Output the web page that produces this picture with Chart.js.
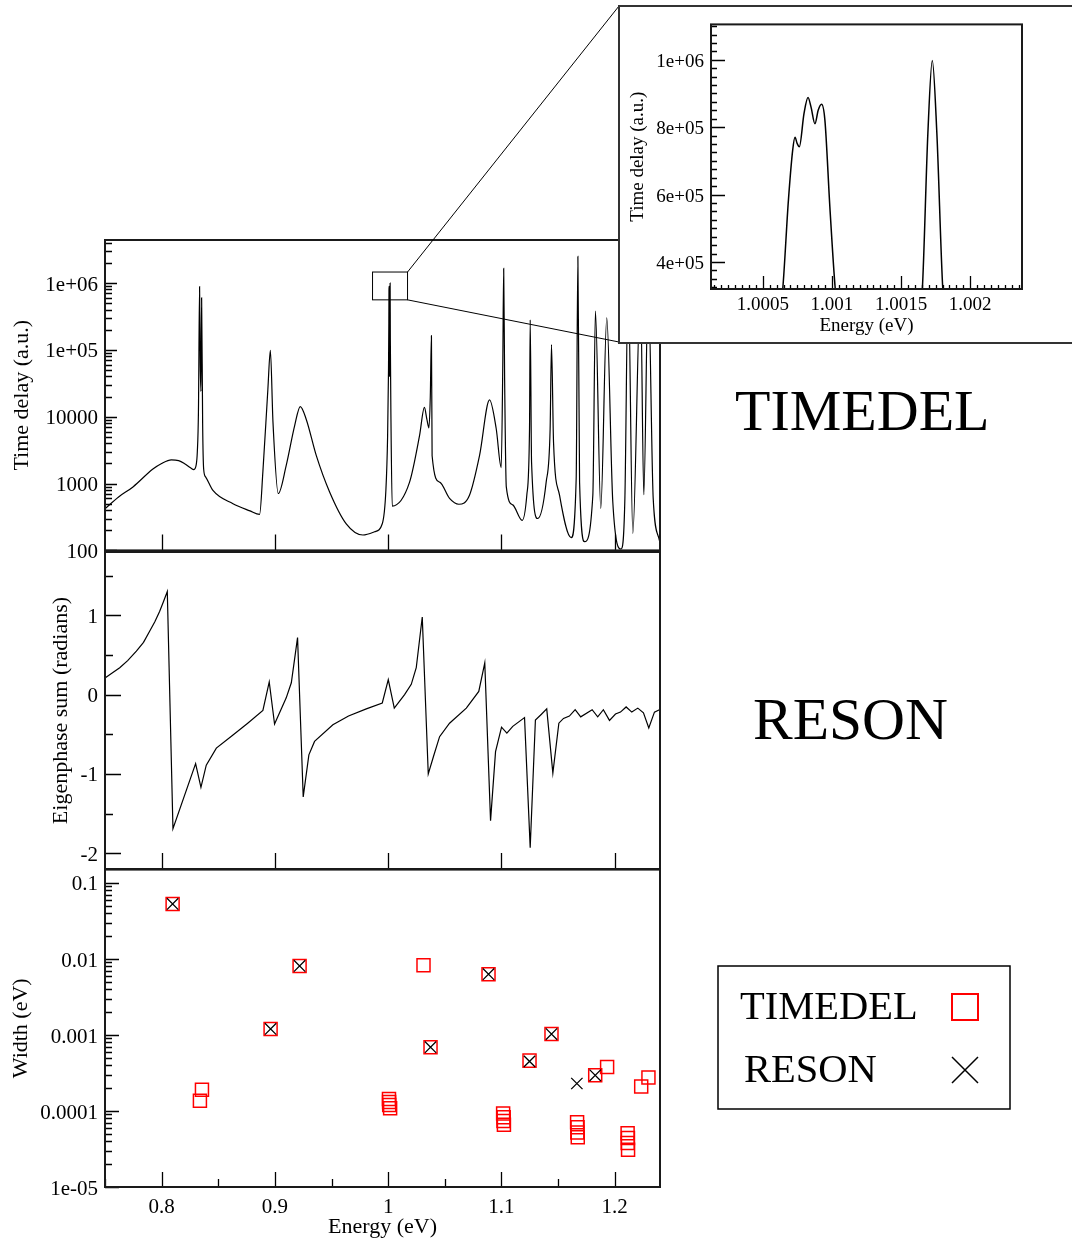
<!DOCTYPE html>
<html>
<head>
<meta charset="utf-8">
<script src="https://cdn.jsdelivr.net/npm/chart.js@4.4.0/dist/chart.umd.min.js"></script>
<style>
  html, body { margin: 0; padding: 0; background: #fff; }
  body { width: 1072px; height: 1242px; position: relative; overflow: hidden; font-family: 'Liberation Serif', serif; }
  canvas, .frame, .tag { position: absolute; }
  .frame { left: 618px; top: 5px; width: 470px; height: 339px; box-sizing: border-box; border: 2px solid #333; background: #fff; }
  .tag { font-size: 58px; line-height: 1; color: #000; white-space: nowrap; }
</style>
</head>
<body>
<canvas id="delayChart" width="1072" height="570" style="left:0;top:0"></canvas>
<canvas id="phaseChart" width="680" height="360" style="left:0;top:530px"></canvas>
<canvas id="widthChart" width="1072" height="392" style="left:0;top:850px"></canvas>
<div class="frame"></div>
<canvas id="insetChart" width="453" height="336" style="left:619px;top:6px"></canvas>
<div class="tag" style="left:735px;top:382px">TIMEDEL</div>
<div class="tag" style="left:753px;top:690px;font-size:59.5px">RESON</div>
<script>
// --- tick labels ---
const energyTicks = [0.8, 0.9, 1.0, 1.1, 1.2];
const energyTickLabels = ["0.8", "0.9", "1", "1.1", "1.2"];
const delayTicks = [100, 1000, 10000, 1e5, 1e6];
const delayTickLabels = ["100", "1000", "10000", "1e+05", "1e+06"];
const phaseTicks = [-2, -1, 0, 1];
const phaseTickLabels = ["-2", "-1", "0", "1"];
const widthTicks = [1e-5, 1e-4, 1e-3, 1e-2, 0.1];
const widthTickLabels = ["1e-05", "0.0001", "0.001", "0.01", "0.1"];
const insetEnergyTicks = [1.0005, 1.001, 1.0015, 1.002];
const insetEnergyTickLabels = ["1.0005", "1.001", "1.0015", "1.002"];
const insetDelayTicks = [4e5, 6e5, 8e5, 1e6];
const insetDelayTickLabels = ["4e+05", "6e+05", "8e+05", "1e+06"];

// --- time delay (top panel) ---
const delayEnergy = [0.75, 0.762, 0.7747, 0.7923, 0.8, 0.8086, 0.815, 0.8203, 0.8255, 0.8285, 0.8305, 0.8315, 0.8325,
  0.8335, 0.8341, 0.8347, 0.8353, 0.8362, 0.8371, 0.8388, 0.8453, 0.863, 0.878, 0.8865, 0.8894, 0.8938, 0.896, 0.8983,
  0.903, 0.91, 0.9174, 0.9224, 0.9277, 0.9365, 0.9483, 0.963, 0.9777, 0.988, 0.9948, 0.998, 0.9995, 1.0003, 1.0006,
  1.00072, 1.00083, 1.00093, 1.00105, 1.0013, 1.0016, 1.00173, 1.0019, 1.0025, 1.0036, 1.0189, 1.0277, 1.032, 1.0342,
  1.036, 1.0372, 1.0382, 1.0388, 1.0454, 1.0542, 1.0624, 1.0718, 1.0807, 1.0895, 1.0954, 1.0998, 1.1012, 1.102, 1.1028,
  1.1043, 1.11, 1.1183, 1.1224, 1.1248, 1.1254, 1.1266, 1.132, 1.1395, 1.143, 1.1442, 1.146, 1.1513, 1.1616, 1.166,
  1.1675, 1.169, 1.1734, 1.1807, 1.183, 1.1877, 1.193, 1.1983, 1.2057, 1.209, 1.2119, 1.216, 1.2228, 1.2257, 1.2296,
  1.234, 1.2395];
const delayValue = [420, 630, 890, 1650, 2000, 2265, 2200, 1980, 1720, 1620, 1900, 2960, 12000,
  880000, 60000, 24000, 600000, 8000, 1650, 1260, 790, 500, 390, 345, 1510, 25700, 98000, 8300,
  710, 1870, 7300, 14200, 9100, 2640, 750, 250, 170, 190, 250, 800, 5000, 50000, 250000,
  770000, 890000, 870000, 200000, 40000, 200000, 1000000, 150000, 8000, 460, 1050, 5200, 13800, 9100,
  6800, 20000, 163000, 2600, 1050, 600, 490, 670, 2640, 17800, 6600, 1730, 60000, 1650000, 40000,
  890, 480, 282, 670, 6600, 280000, 2090, 300, 1050, 6600, 120000, 4150, 670, 155, 1180,
  2500000, 1050, 135, 670, 380000, 425, 300000, 540, 105, 600, 1200000, 180, 800000, 680, 1000000,
  600, 140];

// --- eigenphase sum (middle panel) ---
const phaseEnergy = [0.75, 0.756, 0.763, 0.770, 0.7777, 0.784, 0.7894, 0.794, 0.7982, 0.8015, 0.805, 0.81, 0.83,
  0.8347, 0.8394, 0.8483, 0.863, 0.876,
  0.8894, 0.895, 0.8997, 0.91, 0.9145, 0.92, 0.925, 0.93, 0.935, 0.9512, 0.965, 0.9807, 0.9948, 1.0001, 1.0054,
  1.0145, 1.0204, 1.0248, 1.0301, 1.0354, 1.04, 1.0454, 1.0542, 1.069, 1.08, 1.0853, 1.0904, 1.0948, 1.1001, 1.1048,
  1.11, 1.1204, 1.1254, 1.13, 1.1351, 1.14, 1.1454, 1.1507, 1.1548, 1.16, 1.1651, 1.17, 1.1801, 1.185, 1.19, 1.1954,
  1.2007, 1.2051, 1.2101, 1.2151, 1.2204, 1.2254, 1.2301, 1.2351, 1.2395];
const phaseValue = [0.21, 0.27, 0.34, 0.43, 0.55, 0.66, 0.8, 0.92, 1.05, 1.17, 1.3, -1.69, -0.87,
  -1.17, -0.89, -0.675, -0.51, -0.36,
  -0.2, 0.16, -0.37, -0.04, 0.15, 0.72, -1.29, -0.76, -0.59, -0.38, -0.27, -0.18, -0.105, 0.19, -0.17,
  0.0, 0.13, 0.34, 0.98, -1.0, -0.78, -0.53, -0.36, -0.17, 0.04, 0.4, -1.59, -0.72, -0.41, -0.485,
  -0.4, -0.29, -1.93, -0.32, -0.25, -0.18, -0.99, -0.36, -0.3, -0.27, -0.19, -0.28, -0.19, -0.28, -0.19, -0.325,
  -0.245, -0.22, -0.155, -0.22, -0.17, -0.23, -0.42, -0.22, -0.19];

// --- resonance widths (bottom panel) ---
const timedelEnergy = [0.8097, 0.8356, 0.8338, 0.8962, 0.9218, 1.00072, 1.00083, 1.00092, 1.00173, 1.0312, 1.0374,
  1.0886, 1.1015, 1.102, 1.1018, 1.1022, 1.1248, 1.1442, 1.1668, 1.1672, 1.1670, 1.1674, 1.1828, 1.1933,
  1.2114, 1.2117, 1.2115, 1.2118, 1.2234, 1.2298];
const timedelWidth = [0.053, 1.9e-4, 1.36e-4, 1.2e-3, 8.1e-3, 1.44e-4, 1.31e-4, 1.2e-4, 1.09e-4, 8.3e-3, 6.9e-4,
  6.3e-3, 9.3e-5, 8.3e-5, 7.4e-5, 6.6e-5, 4.6e-4, 1.03e-3, 7.1e-5, 6.1e-5, 5.2e-5, 4.5e-5, 2.95e-4, 3.8e-4,
  5.1e-5, 4.4e-5, 3.8e-5, 3.1e-5, 2.1e-4, 2.75e-4];
const resonEnergy = [0.8097, 0.8962, 0.9218, 1.0374, 1.0886, 1.1248, 1.1442, 1.1666, 1.1828];
const resonWidth = [0.053, 1.2e-3, 8.1e-3, 6.9e-4, 6.3e-3, 4.5e-4, 1.03e-3, 2.3e-4, 2.95e-4];

// --- zoomed time delay (inset) ---
const insetEnergy = [1.00058, 1.000644, 1.000685, 1.000716, 1.000733, 1.000748, 1.000764, 1.000798, 1.000827,
  1.000848, 1.000877, 1.000901, 1.000925, 1.000949, 1.000985, 1.001024, 1.00108, 1.0013, 1.0016, 1.001654,
  1.001694, 1.001726, 1.001759, 1.001802, 1.00186, 1.0025];
const insetValue = [120000, 320000, 583000, 732000, 770000, 752000, 742000, 841000, 888000,
  861000, 810000, 851000, 868000, 821000, 563000, 320000, 120000, 40000, 150000, 320000,
  782000, 998000, 782000, 320000, 120000, 8000];

// region of the top panel that the inset enlarges
const zoomBox = { x: [0.9862, 1.0171], y: [5.6e5, 1.46e6] };

const pts = (xs, ys) => xs.map((x, i) => ({ x: x, y: ys[i] }));

Chart.defaults.font.family = "'Liberation Serif', 'Times New Roman', serif";
Chart.defaults.color = "#000";
Chart.defaults.animation = false;

function logMinors(min, max) {
  const out = [];
  for (let e = Math.floor(Math.log10(min)); e <= Math.ceil(Math.log10(max)); e++) {
    for (let m = 2; m <= 9; m++) {
      const v = m * Math.pow(10, e);
      if (v > min && v < max) out.push(v);
    }
  }
  return out;
}

function stepMinors(min, max, step, majors) {
  const out = [];
  for (let k = Math.ceil(min / step - 1e-9); k * step <= max + 1e-12; k++) {
    const v = k * step;
    if (!majors.some((m) => Math.abs(m - v) < step / 10)) out.push(v);
  }
  return out;
}

// inward tick marks + box round the plot area (xmgrace style)
function frameTicks(cfg) {
  return {
    id: "frameTicks",
    afterDatasetsDraw(chart) {
      const { ctx, chartArea: a } = chart;
      const xs = chart.scales.x, ys = chart.scales.y;
      ctx.save();
      ctx.strokeStyle = "#000";
      ctx.lineWidth = 1.3;
      ctx.beginPath();
      const xt = (vals, len) => vals.forEach((v) => {
        const p = Math.round(xs.getPixelForValue(v)) + 0.5;
        ctx.moveTo(p, a.bottom); ctx.lineTo(p, a.bottom - len);
      });
      const yt = (vals, len) => vals.forEach((v) => {
        const p = Math.round(ys.getPixelForValue(v)) + 0.5;
        ctx.moveTo(a.left, p); ctx.lineTo(a.left + len, p);
      });
      xt(cfg.xMajor, cfg.xLen[0]);
      xt(cfg.xMinor || [], cfg.xLen[1]);
      yt(cfg.yMajor, cfg.yLen[0]);
      yt(cfg.yMinor || [], cfg.yLen[1]);
      ctx.stroke();
      ctx.lineWidth = 2;
      ctx.strokeStyle = "#1a1a1a";
      ctx.strokeRect(a.left, a.top, a.right - a.left, a.bottom - a.top);
      ctx.restore();
    },
  };
}

function energyAxis(show, min, max, ticks, labels, opt) {
  opt = opt || {};
  const axis = {
    type: "linear", min: min, max: max, display: show,
    grid: { display: false, drawTicks: false }, border: { display: false },
    afterBuildTicks: (s) => { s.ticks = ticks.map((v) => ({ value: v })); },
    ticks: { autoSkip: false, maxRotation: 0, padding: opt.pad || 8,
      font: { size: opt.size || 21 }, callback: (v, i) => labels[i] },
    title: { display: show, text: "Energy (eV)", font: { size: opt.titleSize || 22 },
      padding: { top: 0, bottom: opt.titlePad || 2 } },
  };
  if (show) axis.afterFit = (s) => { s.height = opt.height || 55; };
  return axis;
}

function valueAxis(type, min, max, ticks, labels, title, titlePad, opt) {
  opt = opt || {};
  return {
    type: type, min: min, max: max,
    grid: { display: false, drawTicks: false }, border: { display: false },
    afterBuildTicks: (s) => { s.ticks = ticks.map((v) => ({ value: v })); },
    afterFit: (s) => { s.width = opt.width || 105; },
    ticks: { autoSkip: false, padding: 7, labelOffset: 2, font: { size: opt.size || 21 },
      callback: (v, i) => labels[i] },
    title: { display: true, text: title, font: { size: opt.titleSize || 22 }, padding: { top: titlePad, bottom: 0 } },
  };
}

const quiet = { legend: { display: false }, tooltip: { enabled: false } };

// top panel: time delay
const zoomLines = {
  id: "zoomLines",
  afterDraw(chart) {
    const { ctx } = chart;
    const xs = chart.scales.x, ys = chart.scales.y;
    const x0 = xs.getPixelForValue(zoomBox.x[0]), x1 = xs.getPixelForValue(zoomBox.x[1]);
    const y0 = ys.getPixelForValue(zoomBox.y[1]), y1 = ys.getPixelForValue(zoomBox.y[0]);
    ctx.save();
    ctx.strokeStyle = "#000";
    ctx.lineWidth = 1;
    ctx.strokeRect(x0, y0, x1 - x0, y1 - y0);
    ctx.beginPath();
    ctx.moveTo(x1, y0); ctx.lineTo(619, 6);
    ctx.moveTo(x1, y1); ctx.lineTo(619, 342);
    ctx.stroke();
    ctx.restore();
  },
};

new Chart(document.getElementById("delayChart"), {
  type: "line",
  data: { datasets: [{ label: "Time delay", data: pts(delayEnergy, delayValue), borderColor: "#000",
    borderWidth: 1.2, pointRadius: 0, cubicInterpolationMode: "monotone" }] },
  options: {
    responsive: false, events: [],
    layout: { padding: { top: 240, right: 412, bottom: 18, left: 0 } },
    scales: {
      x: energyAxis(false, 0.75, 1.24, energyTicks, energyTickLabels),
      y: valueAxis("logarithmic", 100, 4.4e6, delayTicks, delayTickLabels, "Time delay (a.u.)", 9),
    },
    plugins: quiet,
  },
  plugins: [frameTicks({ xMajor: energyTicks, xLen: [16, 0], yMajor: delayTicks,
    yMinor: logMinors(100, 4.4e6), yLen: [12, 7] }), zoomLines],
});

// middle panel: eigenphase sum
new Chart(document.getElementById("phaseChart"), {
  type: "line",
  data: { datasets: [{ label: "Eigenphase sum", data: pts(phaseEnergy, phaseValue), borderColor: "#000",
    borderWidth: 1.2, pointRadius: 0, tension: 0 }] },
  options: {
    responsive: false, events: [],
    layout: { padding: { top: 22, right: 20, bottom: 21, left: 0 } },
    scales: {
      x: energyAxis(false, 0.75, 1.24, energyTicks, energyTickLabels),
      y: valueAxis("linear", -2.2, 1.8, phaseTicks, phaseTickLabels, "Eigenphase sum (radians)", 48),
    },
    plugins: quiet,
  },
  plugins: [frameTicks({ xMajor: energyTicks, xLen: [16, 0], yMajor: phaseTicks,
    yMinor: stepMinors(-2.2, 1.8, 0.5, phaseTicks), yLen: [16, 8] })],
});

// bottom panel: widths, with a boxed legend to the right
const boxLegend = {
  id: "boxLegend",
  afterDraw(chart) {
    const { ctx } = chart;
    const L = 718, T = 116, W = 292, H = 143;
    ctx.save();
    ctx.fillStyle = "#fff";
    ctx.fillRect(L, T, W, H);
    ctx.strokeStyle = "#000";
    ctx.lineWidth = 1.5;
    ctx.strokeRect(L, T, W, H);
    ctx.font = "40.5px 'Liberation Serif', serif";
    ctx.textBaseline = "middle";
    chart.data.datasets.forEach((ds, i) => {
      const cy = T + 41 + i * 63;
      ctx.fillStyle = "#000";
      ctx.fillText(ds.label, L + 22 + i * 4, cy + 1);
      ctx.strokeStyle = ds.borderColor;
      ctx.beginPath();
      if (ds.pointStyle === "rect") {
        ctx.lineWidth = 2;
        ctx.rect(L + 234, cy - 13, 26, 26);
      } else {
        ctx.lineWidth = 1.5;
        ctx.moveTo(L + 234, cy - 13); ctx.lineTo(L + 260, cy + 13);
        ctx.moveTo(L + 260, cy - 13); ctx.lineTo(L + 234, cy + 13);
      }
      ctx.stroke();
    });
    ctx.restore();
  },
};

new Chart(document.getElementById("widthChart"), {
  type: "scatter",
  data: {
    datasets: [
      { label: "TIMEDEL", data: pts(timedelEnergy, timedelWidth), pointStyle: "rect", pointRadius: 9.2,
        borderColor: "#ff0000", backgroundColor: "rgba(0,0,0,0)", borderWidth: 1.5, order: 1 },
      { label: "RESON", data: pts(resonEnergy, resonWidth), pointStyle: "crossRot", pointRadius: 8,
        borderColor: "#000", backgroundColor: "#000", borderWidth: 1.3, order: 0 },
    ],
  },
  options: {
    responsive: false, events: [],
    layout: { padding: { top: 19, right: 412, bottom: 0, left: 0 } },
    scales: {
      x: energyAxis(true, 0.75, 1.24, energyTicks, energyTickLabels),
      y: valueAxis("logarithmic", 1e-5, 0.15, widthTicks, widthTickLabels, "Width (eV)", 8),
    },
    plugins: quiet,
  },
  plugins: [frameTicks({ xMajor: energyTicks, xMinor: stepMinors(0.75, 1.24, 0.05, energyTicks), xLen: [15, 8],
    yMajor: widthTicks, yMinor: logMinors(1e-5, 0.15), yLen: [14, 7] }), boxLegend],
});

// inset: zoom on the 1.0007 / 1.0017 eV resonances
new Chart(document.getElementById("insetChart"), {
  type: "line",
  data: { datasets: [{ label: "Time delay", data: pts(insetEnergy, insetValue), borderColor: "#000",
    borderWidth: 1.5, pointRadius: 0, cubicInterpolationMode: "monotone" }] },
  options: {
    responsive: false, events: [],
    layout: { padding: { top: 18, right: 50, bottom: 0, left: 0 } },
    scales: {
      x: energyAxis(true, 1.000125, 1.002375, insetEnergyTicks, insetEnergyTickLabels,
        { size: 19, titleSize: 19, pad: 5, titlePad: 5, height: 53 }),
      y: valueAxis("linear", 3.2e5, 1.105e6, insetDelayTicks, insetDelayTickLabels, "Time delay (a.u.)", 7.6,
        { width: 92, size: 19, titleSize: 19 }),
    },
    plugins: quiet,
  },
  plugins: [frameTicks({ xMajor: insetEnergyTicks, xMinor: stepMinors(1.000125, 1.002375, 0.00005, insetEnergyTicks),
    xLen: [13, 4], yMajor: insetDelayTicks, yMinor: stepMinors(3.2e5, 1.105e6, 25000, insetDelayTicks), yLen: [14, 6] })],
});
</script>
</body>
</html>
